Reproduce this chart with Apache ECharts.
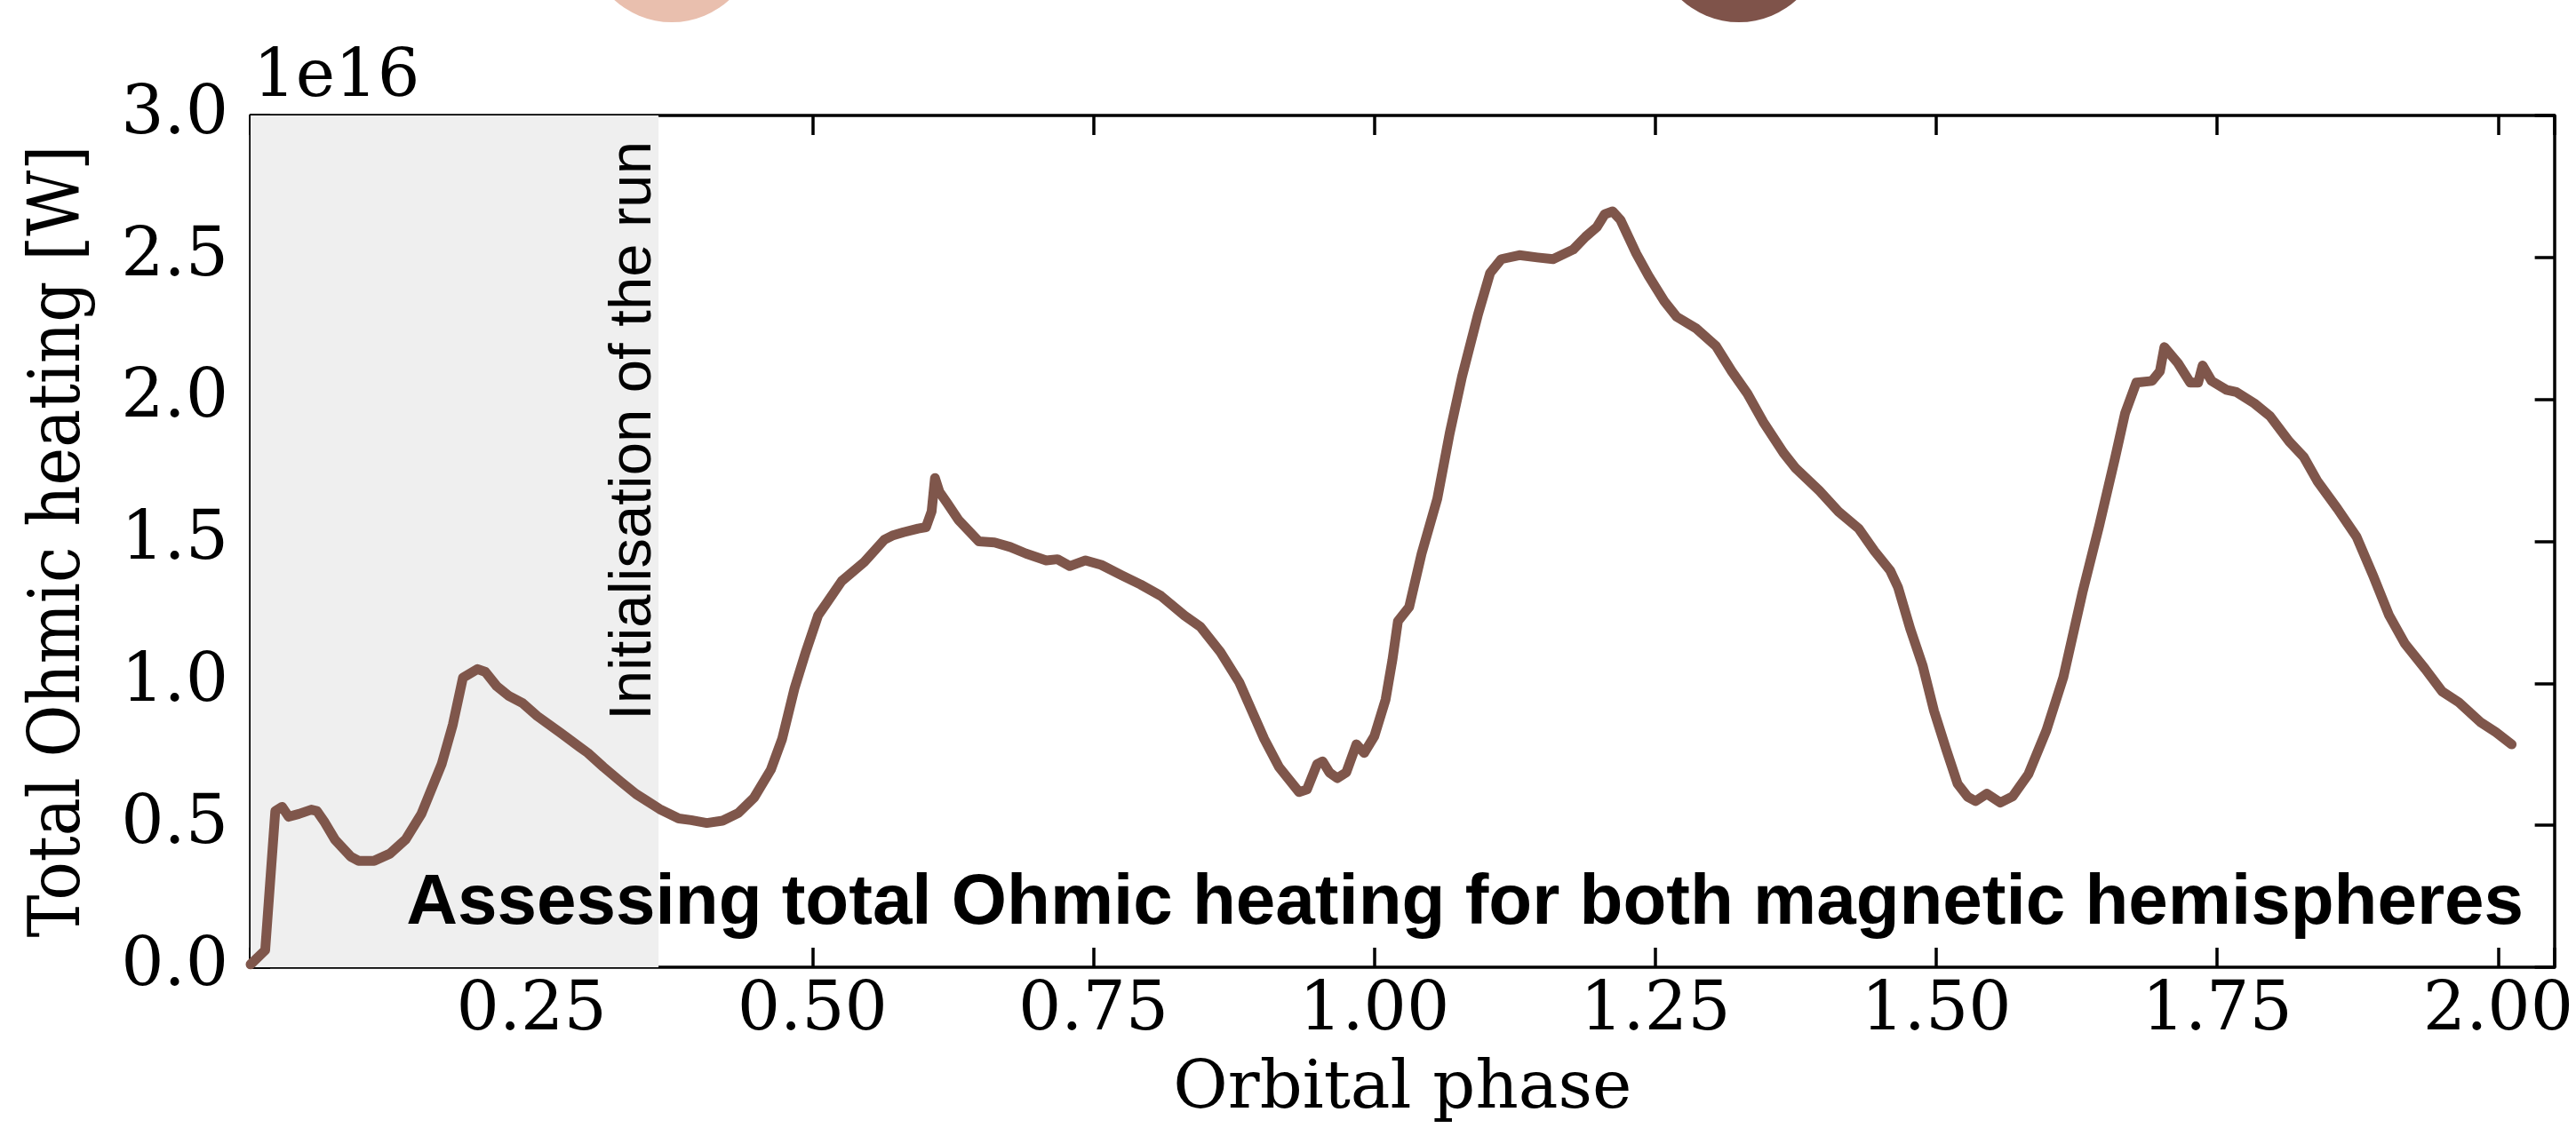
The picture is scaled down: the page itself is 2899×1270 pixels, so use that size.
<!DOCTYPE html>
<html>
<head>
<meta charset="utf-8">
<script src="https://cdn.jsdelivr.net/npm/echarts@6/dist/echarts.min.js"></script>
<style>
html,body{margin:0;padding:0;background:#fff;}
#chart{width:2899px;height:1270px;}
</style>
</head>
<body>
<div id="chart"></div>
<script>
// Orbital phase (x) and total Ohmic heating in units of 1e16 W (y)
const phase = [
0.000,0.013,0.022,0.028,0.034,0.043,0.054,0.059,0.066,0.075,0.089,0.096,0.110,0.124,0.138,0.152,0.170,0.180,0.189,0.202,
0.209,0.219,0.230,0.242,0.255,0.276,0.293,0.300,0.314,0.329,0.343,0.353,0.364,0.381,0.392,0.406,0.420,0.434,0.448,0.463,
0.473,0.484,0.494,0.505,0.512,0.526,0.546,0.564,0.571,0.581,0.594,0.601,0.606,0.609,0.613,0.620,0.630,0.648,0.662,0.676,
0.690,0.708,0.718,0.729,0.743,0.757,0.775,0.792,0.810,0.831,0.845,0.863,0.880,0.891,0.902,0.915,0.933,0.940,0.949,0.954,
0.960,0.967,0.975,0.984,0.991,1.000,1.010,1.016,1.021,1.031,1.042,1.056,1.067,1.078,1.092,1.103,1.113,1.129,1.145,1.159,
1.177,1.188,1.198,1.205,1.212,1.219,1.233,1.244,1.258,1.269,1.286,1.304,1.318,1.332,1.346,1.364,1.375,1.396,1.413,1.431,
1.445,1.459,1.466,1.477,1.488,1.498,1.509,1.519,1.528,1.535,1.545,1.557,1.568,1.582,1.598,1.613,1.630,1.645,1.659,1.668,
1.678,1.692,1.699,1.703,1.715,1.726,1.733,1.737,1.745,1.758,1.767,1.783,1.797,1.814,1.827,1.839,1.857,1.874,1.889,1.903,
1.917,1.935,1.950,1.965,1.984,1.998,2.012
];
const heating = [
0.01,0.06,0.55,0.565,0.53,0.54,0.555,0.55,0.51,0.45,0.39,0.375,0.375,0.40,0.45,0.54,0.715,0.855,1.02,1.05,
1.04,0.99,0.955,0.93,0.885,0.825,0.775,0.755,0.705,0.655,0.61,0.585,0.557,0.524,0.518,0.508,0.516,0.543,0.597,0.696,
0.804,0.982,1.11,1.239,1.279,1.36,1.427,1.506,1.52,1.532,1.545,1.55,1.605,1.723,1.674,1.634,1.575,1.50,1.496,1.48,
1.457,1.433,1.437,1.413,1.433,1.417,1.381,1.348,1.308,1.239,1.20,1.11,1.002,0.903,0.804,0.706,0.617,0.626,0.715,0.725,
0.686,0.666,0.686,0.785,0.755,0.814,0.943,1.081,1.219,1.269,1.456,1.65,1.88,2.08,2.296,2.445,2.494,2.508,2.50,2.494,
2.528,2.573,2.607,2.652,2.662,2.632,2.514,2.435,2.346,2.291,2.251,2.188,2.099,2.02,1.921,1.812,1.757,1.678,1.605,1.545,
1.466,1.397,1.338,1.19,1.061,0.903,0.765,0.646,0.60,0.585,0.611,0.58,0.602,0.68,0.834,1.02,1.318,1.555,1.792,1.951,
2.059,2.065,2.099,2.184,2.128,2.059,2.059,2.119,2.065,2.034,2.026,1.986,1.941,1.852,1.797,1.713,1.615,1.516,1.377,1.239,
1.14,1.051,0.972,0.933,0.864,0.828,0.785
];
const xTicks = [0.25,0.50,0.75,1.00,1.25,1.50,1.75,2.00];
const yTicks = [0.0,0.5,1.0,1.5,2.0,2.5,3.0];
const initEnd = 0.363;
const xRange = [0, 2.05];
const yRange = [0, 3.0];

const SERIF = 'DejaVu Serif';
const FS = 76;   // tick labels
const FSN = 75;  // axis titles / offset text

// Use DejaVu Serif Condensed for the y-axis title when it is installed
function hasFont(name){
  const c = document.createElement('canvas').getContext('2d');
  c.font = '80px "' + name + '", monospace';
  const a = c.measureText('Total Ohmic heating [W]').width;
  c.font = '80px monospace';
  const b = c.measureText('Total Ohmic heating [W]').width;
  return Math.abs(a - b) > 1;
}
const condensedOK = hasFont('DejaVu Serif Condensed');
const yNameFont = condensedOK ? {fontFamily:'DejaVu Serif Condensed', fontSize:80} : {fontFamily:SERIF, fontSize:72};

const chart = echarts.init(document.getElementById('chart'), null, {renderer:'canvas'});
const axisLine = {show:true, onZero:false, lineStyle:{color:'#000', width:3.5}};
const tick = {show:true, inside:true, length:22, lineStyle:{color:'#000', width:3.5}};

const option = {
  backgroundColor:'#fff',
  animation:false,
  grid:{left:282, right:21, top:130, bottom:169, containLabel:false},
  xAxis:[{
    type:'value', min:xRange[0], max:xRange[1], interval:0.25, position:'bottom',
    name:'Orbital phase', nameLocation:'middle', nameGap:101,
    nameTextStyle:{fontFamily:SERIF, fontSize:FSN, color:'#000'},
    axisLine:axisLine, axisTick:tick, splitLine:{show:false},
    axisLabel:{fontFamily:SERIF, fontSize:FS, color:'#000', margin:12,
      formatter:function(v){ return xTicks.some(t=>Math.abs(t-v)<1e-9) ? v.toFixed(2) : ''; }}
  },{
    type:'value', min:xRange[0], max:xRange[1], interval:0.25, position:'top',
    axisLine:axisLine, axisTick:tick, splitLine:{show:false}, axisLabel:{show:false}
  }],
  yAxis:[{
    type:'value', min:yRange[0], max:yRange[1], interval:0.5, position:'left',
    name:'Total Ohmic heating [W]', nameLocation:'middle', nameGap:174,
    nameTextStyle:Object.assign({color:'#000'}, yNameFont),
    axisLine:axisLine, axisTick:tick, splitLine:{show:false},
    axisLabel:{fontFamily:SERIF, fontSize:FS, color:'#000', margin:25,
      formatter:function(v){ return yTicks.some(t=>Math.abs(t-v)<1e-9) ? v.toFixed(1) : ''; }}
  },{
    type:'value', min:yRange[0], max:yRange[1], interval:0.5, position:'right',
    axisLine:axisLine, axisTick:tick, splitLine:{show:false}, axisLabel:{show:false}
  }],
  series:[{
    type:'line',
    data: phase.map((p,i)=>[p, heating[i]]),
    showSymbol:false, symbol:'none',
    lineStyle:{color:'#7f564b', width:11, join:'round', cap:'round'},
    itemStyle:{color:'#7f564b'},
    z:3,
    markArea:{
      silent:true,
      itemStyle:{color:'#efefef'},
      data:[[{xAxis:0},{xAxis:initEnd}]]
    }
  }],
  graphic:[
    {type:'circle', shape:{cx:756, cy:-71, r:96}, style:{fill:'#e9bfae'}, silent:true},
    {type:'circle', shape:{cx:1957, cy:-71, r:96}, style:{fill:'#7f534a'}, silent:true},
    {type:'text', x:285, y:89, style:{text:'1e16', font:FSN+'px "DejaVu Serif"', fill:'#000', textAlign:'left', textVerticalAlign:'middle'}},
    {type:'text', x:714, y:485, rotation:Math.PI/2, z:10,
      style:{text:'Initialisation of the run', font:'67px "Liberation Sans", Arial, sans-serif', fill:'#000', textAlign:'center', textVerticalAlign:'middle'}},
    {type:'text', x:2840, y:1018, z:10,
      style:{text:'Assessing total Ohmic heating for both magnetic hemispheres', font:'bold 80px "Liberation Sans", Arial, sans-serif', fill:'#000', textAlign:'right', textVerticalAlign:'middle'}}
  ]
};
chart.setOption(option);
</script>
</body>
</html>
